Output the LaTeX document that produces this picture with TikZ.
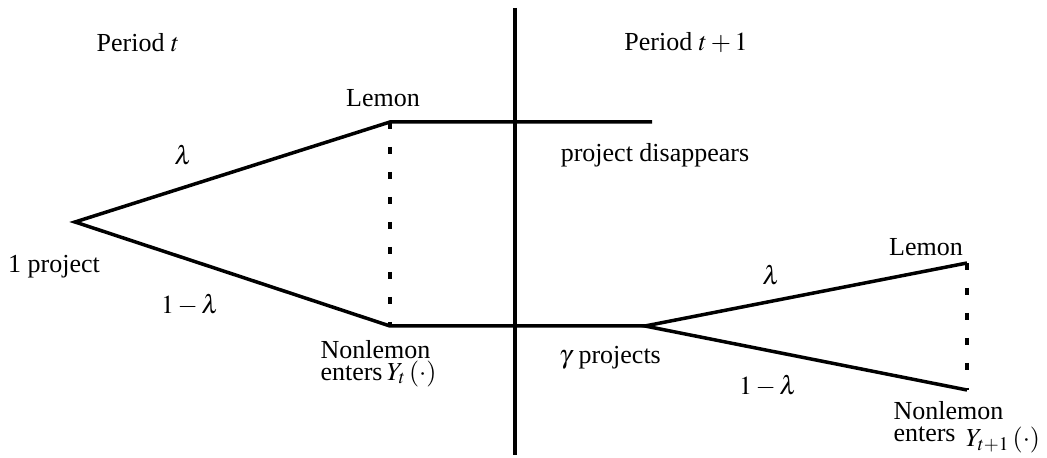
\documentclass[tikz,border=0pt]{standalone}
\usepackage{mathptmx}
\usepackage{fontspec}
\setmainfont{Liberation Serif}
\usepackage{tikz}
\usetikzlibrary{positioning,calc}
\definecolor{ink}{HTML}{000000}
\tikzset{
  % --- nodes
  lbl/.style   = {inner sep=0pt, font=\fontsize{10.4}{8.6}\selectfont, text=ink},
  twoline/.style = {lbl, align=left, anchor=north west},
  % --- edges
  branch/.style = {draw=ink, line width=1.4pt, line join=miter},
  info/.style   = {draw=ink, line width=1.6pt, dash pattern=on 2.8pt off 7.2pt},
  divider/.style= {draw=ink, line width=1.5pt},
}
\begin{document}
\begin{tikzpicture}[x=0.4pt,y=-0.4pt]
  \useasboundingbox (0,0) rectangle (1047,458);

  % --- fork points
  \coordinate (root) at (75,222);
  \coordinate (lem1) at (390,122);
  \coordinate (non1) at (390,326);
  \coordinate (gone) at (652,122);
  \coordinate (fork) at (645,326);
  \coordinate (lem2) at (967,263);
  \coordinate (non2) at (967,390);
  \coordinate (divtop) at (515,8);
  \coordinate (divbot) at (515,455);

  % --- labels
  \node[lbl] (pt)   at (138,43)  {Period $t$};
  \node[lbl] (pt1)  at (686,43)  {Period $t+1$};
  \node[lbl] (l1)   at (383,98)  {Lemon};
  \node[lbl] (lam1) at (183,155) {$\lambda$};
  \node[lbl] (one)  at (54,267)  {1 project};
  \node[lbl] (mlam1) at (190,305) {$1-\lambda$};
  \node[lbl] (dis)  at (655,155) {project disappears};
  \node[twoline] (n1) at (320,340) {Nonlemon\\enters\,$Y_t\,(\cdot)$};
  \node[lbl] (gam)  at (610,358) {$\gamma$ projects};
  \node[lbl] (lam2) at (771,275) {$\lambda$};
  \node[lbl] (mlam2) at (768,386) {$1-\lambda$};
  \node[lbl] (l2)   at (926,247) {Lemon};
  \node[twoline] (n2) at (893,401) {Nonlemon\\enters};
  \node[lbl] (y2)   at (1003,440) {$Y_{t+1}\,(\cdot)$};

  % --- tree
  \draw[divider] (divtop) -- (divbot);
  \draw[branch] (gone) -- (lem1) -- (root) -- (non1) -- (fork);
  \foreach \a/\b in {lem2/non2} {
    \draw[branch] (\a) -- (fork) -- (\b);
  }
  \draw[info] (lem1) -- (non1);
  \draw[info] (lem2) -- (non2);
\end{tikzpicture}
\end{document}
